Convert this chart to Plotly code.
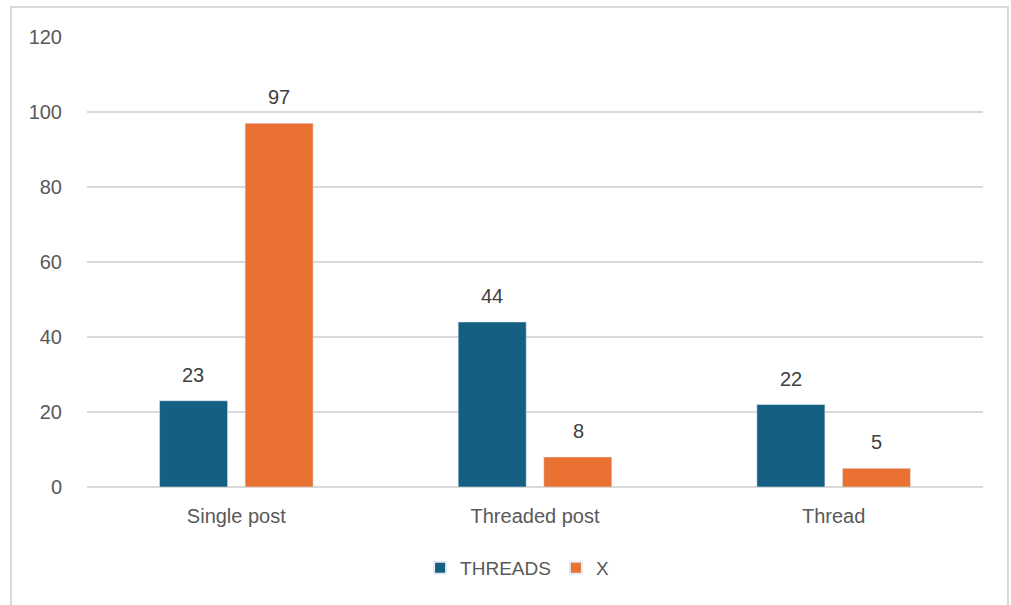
import plotly.graph_objects as go

categories = ["Single post", "Threaded post", "Thread"]
threads = [23, 44, 22]
x_vals = [97, 8, 5]
y_ticks = [0, 20, 40, 60, 80, 100, 120]

C_THREADS = "#156082"
C_X = "#E97132"
TXT = "#595959"
FONT = "Liberation Sans, Arial, sans-serif"

fig = go.Figure()
fig.add_trace(go.Bar(name="THREADS", x=categories, y=threads, marker_color=C_THREADS))
fig.add_trace(go.Bar(name="X", x=categories, y=x_vals, marker_color=C_X))

anns = []
for cat, a, b in zip(categories, threads, x_vals):
    for val, shift in ((a, -43), (b, 43)):
        anns.append(dict(x=cat, y=val, xref="x", yref="y", text=str(val), showarrow=False,
                         xshift=shift, yshift=13, yanchor="bottom",
                         font=dict(size=20, color="#404040", family=FONT)))

fig.update_layout(
    width=1011, height=605,
    margin=dict(l=87, r=28, t=37, b=118),
    paper_bgcolor="white", plot_bgcolor="white",
    barmode="group", bargap=0.427, bargroupgap=0.205,
    font=dict(family=FONT, size=20, color=TXT),
    showlegend=True,
    legend=dict(orientation="h", x=0.48, xanchor="center", y=-0.18, yanchor="middle",
                font=dict(size=19, color=TXT), itemsizing="constant"),
    annotations=anns,
    shapes=[dict(type="rect", xref="paper", yref="paper", x0=-0.0848, x1=1.0279,
                 y0=-0.35, y1=1.0667, line=dict(color="#d9d9d9", width=2), fillcolor="rgba(0,0,0,0)",
                 layer="below")],
)
fig.update_yaxes(range=[0, 120], tickvals=y_ticks, showgrid=True, gridcolor="#d9d9d9", gridwidth=2,
                 zeroline=True, zerolinecolor="#d9d9d9", zerolinewidth=2, showline=False,
                 ticklabelstandoff=24, tickfont=dict(size=20, color=TXT))
fig.update_xaxes(showline=False, ticks="", ticklabelstandoff=15, tickfont=dict(size=20, color=TXT))

fig.write_html("out.html")
